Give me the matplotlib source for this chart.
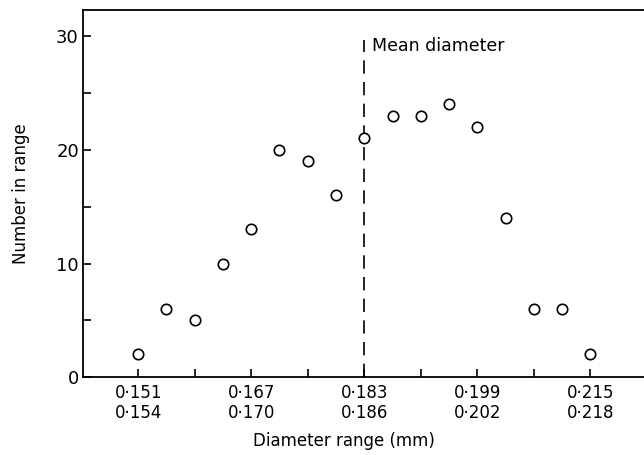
import matplotlib.pyplot as plt
import numpy as np

# bin centres (mm) and counts
diameter = [0.151, 0.155, 0.159, 0.163, 0.167, 0.171, 0.175, 0.179, 0.183,
            0.187, 0.191, 0.195, 0.199, 0.203, 0.207, 0.211, 0.215]
counts = [2, 6, 5, 10, 13, 20, 19, 16, 21, 23, 23, 24, 22, 14, 6, 6, 2]

major_ticks = [0.151, 0.167, 0.183, 0.199, 0.215]
major_labels = ["0·151\n0·154", "0·167\n0·170", "0·183\n0·186",
                "0·199\n0·202", "0·215\n0·218"]
minor_ticks = [0.159, 0.175, 0.191, 0.207]
mean_diameter = 0.183

plt.rcParams['font.family'] = ['DejaVu Sans']

fig = plt.figure(figsize=(6.44, 4.55), dpi=100)
ax = fig.add_axes([0.129, 0.171, 0.871, 0.807])

ax.plot(diameter, counts, 'o', mfc='white', mec='black', ms=7.5, mew=1.2,
        zorder=3)

# mean diameter marker
ax.plot([mean_diameter, mean_diameter], [0, 29.7], color='black', lw=1.2,
        dashes=(8, 5))
ax.text(mean_diameter + 0.0011, 29.1, "Mean diameter", fontsize=12.5,
        va='center', ha='left')

ax.set_xlim(0.1432, 0.2226)
ax.set_ylim(0, 32.3)

ax.set_xticks(major_ticks)
ax.set_xticklabels(major_labels, fontsize=12, linespacing=1.15)
ax.set_xticks(minor_ticks, minor=True)
ax.set_yticks([0, 10, 20, 30])
ax.set_yticklabels(["0", "10", "20", "30"], fontsize=13)
ax.set_yticks([5, 15, 25], minor=True)

ax.tick_params(axis='both', which='both', direction='in', length=6, width=1.2)
ax.tick_params(axis='x', which='major', pad=5)
ax.tick_params(axis='y', which='major', pad=3)

for side in ['left', 'bottom', 'top']:
    ax.spines[side].set_linewidth(1.3)
ax.spines['right'].set_visible(False)

ax.set_xlabel("Diameter range (mm)", fontsize=12)
ax.xaxis.set_label_coords(0.465, -0.148)
ax.set_ylabel("Number in range", fontsize=12)
ax.yaxis.set_label_coords(-0.095, 0.5)

fig.savefig("out.png", dpi=100)
